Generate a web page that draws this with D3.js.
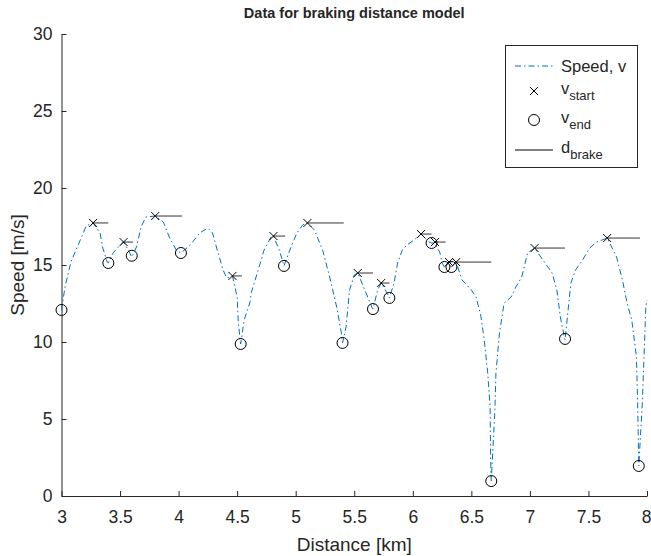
<!DOCTYPE html>
<html>
<head>
<meta charset="utf-8">
<script src="https://cdn.jsdelivr.net/npm/d3@7"></script>
<style>
  body { margin: 0; background: #fff; }
  svg text { font-family: "Liberation Sans", Arial, Helvetica, sans-serif; fill: #262626; }
</style>
</head>
<body>
<svg id="chart" width="651" height="556"></svg>
<script>
"use strict";

// ==========  Data  ==========
var speedDist = [3.00,3.03,3.08,3.16,3.21,3.27,3.33,3.35,3.39,3.40,3.44,3.50,3.53,3.57,3.60,3.64,3.68,3.72,3.80,
  3.87,3.92,3.98,4.02,4.10,4.18,4.25,4.29,4.33,4.38,4.41,4.46,4.50,4.51,4.53,4.56,4.61,4.62,4.68,4.73,4.79,4.81,
  4.86,4.90,4.95,5.01,5.06,5.10,5.16,5.23,5.29,5.35,5.39,5.40,5.43,5.46,5.50,5.53,5.59,5.65,5.66,5.70,5.73,5.78,
  5.80,5.84,5.87,5.91,5.95,6.01,6.07,6.14,6.16,6.18,6.23,6.25,6.27,6.31,6.33,6.37,6.42,6.50,6.54,6.58,6.61,6.64,
  6.66,6.665,6.67,6.70,6.71,6.74,6.78,6.84,6.88,6.93,6.98,7.04,7.10,7.19,7.23,7.26,7.30,7.32,7.35,7.39,7.45,7.51,
  7.57,7.66,7.74,7.79,7.83,7.87,7.91,7.92,7.93,7.96,7.99,8.00]
var speedVal = [12.08,13.57,15.19,16.62,17.53,17.73,17.08,16.17,15.19,15.13,15.78,16.30,16.49,15.97,15.52,16.17,
  17.47,18.12,18.18,17.79,16.82,15.97,15.78,16.30,17.08,17.40,17.08,15.97,14.68,14.16,14.29,12.92,11.23,9.87,
  11.43,12.60,13.18,14.68,15.97,16.82,16.88,15.97,14.94,15.97,17.08,17.60,17.73,17.27,15.97,14.22,12.27,10.58,
  9.94,10.97,13.38,14.35,14.48,13.38,12.27,12.14,13.38,13.83,13.18,12.86,13.83,15.13,15.97,16.30,16.62,17.01,
  16.49,16.43,16.43,15.84,15.13,14.87,15.10,14.87,15.19,14.03,13.38,12.92,11.75,10.13,7.99,5.78,2.34,0.97,5.39,
  7.99,10.58,12.53,12.92,13.57,14.22,15.78,16.10,15.45,14.48,13.38,11.62,10.13,11.62,13.83,14.68,15.32,16.10,
  16.49,16.75,15.52,14.03,12.53,11.43,9.03,6.04,1.95,6.04,12.27,12.73]

var startDist  = [3.27,3.53,3.80,4.46,4.81,5.10,5.53,5.73,6.07,6.19,6.31,6.37,7.04,7.66]
var startSpeed = [17.73,16.49,18.18,14.29,16.88,17.73,14.48,13.83,17.01,16.49,15.19,15.19,16.10,16.75]

var endDist  = [3.00,3.40,3.60,4.02,4.53,4.90,5.40,5.66,5.80,6.16,6.27,6.33,6.67,7.30,7.93]
var endSpeed = [12.08,15.13,15.60,15.78,9.87,14.94,9.94,12.14,12.86,16.43,14.87,14.87,0.97,10.20,1.95]

// where each braking run ends (distance), one per v_start
var brakeEnd = [3.40,3.61,4.03,4.54,4.91,5.41,5.66,5.80,6.16,6.28,6.33,6.67,7.30,7.94]

var xTicks = [3,3.5,4,4.5,5,5.5,6,6.5,7,7.5,8]
var yTicks = [0,5,10,15,20,25,30]

// ==========  Chart  ==========
var svg = d3.select('#chart')
var plotLeft = 61.5, plotRight = 647, plotTop = 34, plotBottom = 496
var blue = '#0072BD', axisColor = '#262626'

var x = d3.scaleLinear().domain([3, 8]).range([plotLeft, plotRight])
var y = d3.scaleLinear().domain([0, 30]).range([plotBottom, plotTop])

// axes (MATLAB style, ticks inside, box off)
var xAxis = d3.axisBottom(x).tickValues(xTicks).tickSizeInner(-5).tickSizeOuter(0).tickPadding(15)
  .tickFormat(function(d) { return String(d) })
var yAxis = d3.axisLeft(y).tickValues(yTicks).tickSizeInner(-5).tickSizeOuter(0).tickPadding(9)
  .tickFormat(function(d) { return String(d) })

var gx = svg.append('g').attr('transform', 'translate(0,' + plotBottom + ')').call(xAxis)
var gy = svg.append('g').attr('transform', 'translate(' + plotLeft + ',0)').call(yAxis)
;[gx, gy].forEach(function(g) {
  g.select('.domain').attr('stroke', axisColor).attr('stroke-width', 1)
  g.selectAll('.tick line').attr('stroke', axisColor)
  g.selectAll('.tick text').attr('font-size', 17.5).attr('fill', axisColor)
    .style('font-family', '"Liberation Sans", Arial, sans-serif')
})
gx.select('.tick:last-of-type text').attr('dx', -1)

// speed curve
var line = d3.line().x(function(d) { return x(d[0]) }).y(function(d) { return y(d[1]) })
var speed = d3.zip(speedDist, speedVal)
svg.append('path').datum(speed)
   .attr('d', line)
   .attr('fill', 'none')
   .attr('stroke', blue)
   .attr('stroke-width', 1)
   .attr('stroke-dasharray', '6,3,1.5,3')

// braking distance lines
svg.append('g').selectAll('line').data(d3.range(startDist.length)).join('line')
   .attr('x1', function(i) { return x(startDist[i]) })
   .attr('x2', function(i) { return x(brakeEnd[i]) })
   .attr('y1', function(i) { return y(startSpeed[i]) })
   .attr('y2', function(i) { return y(startSpeed[i]) })
   .attr('stroke', '#333').attr('stroke-width', 1)

// v_start crosses
var cross = function(g, cx, cy, r) {
  g.append('path')
   .attr('d', 'M' + (cx - r) + ',' + (cy - r) + 'L' + (cx + r) + ',' + (cy + r) +
              'M' + (cx - r) + ',' + (cy + r) + 'L' + (cx + r) + ',' + (cy - r))
   .attr('stroke', '#000').attr('stroke-width', 1).attr('fill', 'none')
}
var gs = svg.append('g')
for(var i = 0; i < startDist.length; ++i)
  cross(gs, x(startDist[i]), y(startSpeed[i]), 4)

// v_end circles
svg.append('g').selectAll('circle').data(d3.zip(endDist, endSpeed)).join('circle')
   .attr('cx', function(d) { return x(d[0]) })
   .attr('cy', function(d) { return y(d[1]) })
   .attr('r', 5.5)
   .attr('fill', 'none').attr('stroke', '#000').attr('stroke-width', 1)

// title + labels
svg.append('text').attr('x', (plotLeft + plotRight) / 2).attr('y', 18)
   .attr('text-anchor', 'middle').attr('font-size', 14.5).attr('font-weight', 'bold')
   .attr('fill', '#000')
   .text('Data for braking distance model')
svg.append('text').attr('x', (plotLeft + plotRight) / 2).attr('y', 551)
   .attr('text-anchor', 'middle').attr('font-size', 19)
   .text('Distance [km]')
svg.append('text').attr('transform', 'translate(24,' + ((plotTop + plotBottom) / 2) + ') rotate(-90)')
   .attr('text-anchor', 'middle').attr('font-size', 19)
   .text('Speed [m/s]')

// legend
var lg = svg.append('g')
lg.append('rect').attr('x', 505.5).attr('y', 45.5).attr('width', 132).attr('height', 122)
  .attr('fill', '#fff').attr('stroke', axisColor).attr('stroke-width', 1)
var lx1 = 515, lx2 = 553, tx = 561
lg.append('line').attr('x1', lx1).attr('x2', lx2).attr('y1', 66).attr('y2', 66)
  .attr('stroke', blue).attr('stroke-dasharray', '6,3,1.5,3')
lg.append('text').attr('x', tx).attr('y', 72).attr('font-size', 16.5).attr('fill', '#000').text('Speed, v')
cross(lg, 534, 91, 4)
var t1 = lg.append('text').attr('x', tx).attr('y', 94).attr('font-size', 16.5).attr('fill', '#000')
t1.append('tspan').text('v')
t1.append('tspan').attr('dy', 6).attr('font-size', 13).text('start')
lg.append('circle').attr('cx', 534).attr('cy', 120).attr('r', 5.5)
  .attr('fill', 'none').attr('stroke', '#000')
var t2 = lg.append('text').attr('x', tx).attr('y', 123).attr('font-size', 16.5).attr('fill', '#000')
t2.append('tspan').text('v')
t2.append('tspan').attr('dy', 6).attr('font-size', 13).text('end')
lg.append('line').attr('x1', lx1).attr('x2', lx2).attr('y1', 150).attr('y2', 150)
  .attr('stroke', '#000')
var t3 = lg.append('text').attr('x', tx).attr('y', 153).attr('font-size', 16.5).attr('fill', '#000')
t3.append('tspan').text('d')
t3.append('tspan').attr('dy', 6).attr('font-size', 13).text('brake')
</script>
</body>
</html>
